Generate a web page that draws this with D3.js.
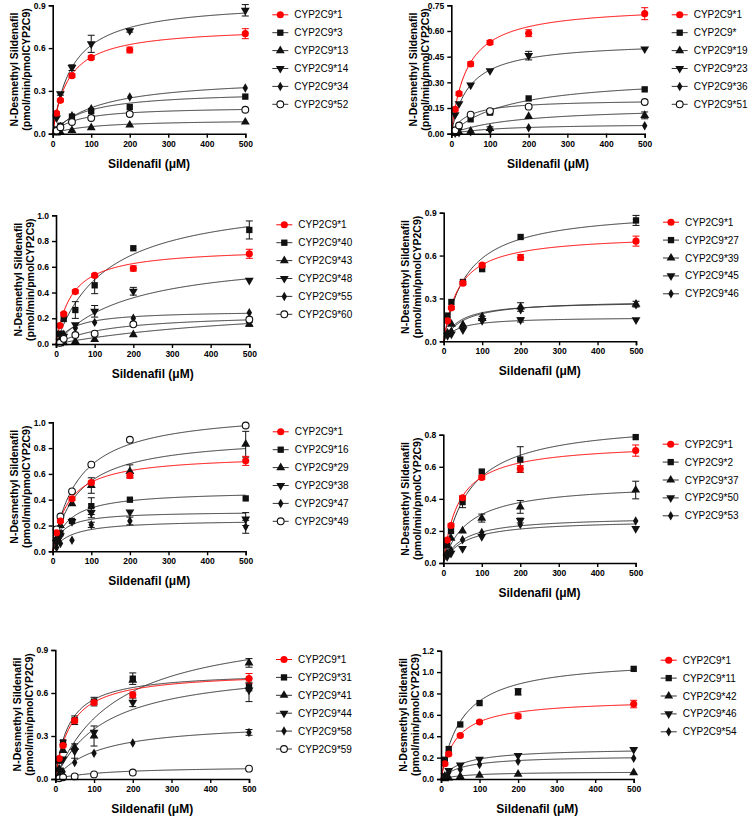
<!DOCTYPE html>
<html><head><meta charset="utf-8">
<script src="https://cdn.jsdelivr.net/npm/d3@7"></script>
<style>body{margin:0;background:#fff} text{font-family:"Liberation Sans",Arial,sans-serif}</style>
</head><body><svg id="c" width="753" height="818"></svg>
<script>
// ---- data ----
const doses = [10, 20, 50, 100, 200, 500];
const xTicks = [0, 100, 200, 300, 400, 500];
const shapeOrder = ["circle", "square", "triangle", "down", "diamond", "open"];

const wtName = "CYP2C9*1";
const wtValues = [0.143, 0.234, 0.407, 0.533, 0.587, 0.701];
const wtErr = [0.01, 0.01, 0.012, 0.012, 0.02, 0.035];
const wtVmax = 0.75, wtKm = 40;

const p1Names = ["CYP2C9*3", "CYP2C9*13", "CYP2C9*14", "CYP2C9*34", "CYP2C9*52"];
const p1Values = [[0.03,0.056,0.12,0.159,0.187,0.26],[0.005,0.01,0.023,0.042,0.061,0.082],[0.11,0.28,0.463,0.63,0.722,0.865],[0.02,0.05,0.126,0.175,0.257,0.32],[0.02,0.045,0.082,0.11,0.138,0.168]];
const p1Err = [[0,0,0,0,0,0],[0,0,0,0,0,0],[0,0.01,0.02,0.06,0.01,0.04],[0,0,0,0,0,0],[0,0,0,0,0,0]];
const p1Vmax = [0.3, 0.1, 0.93, 0.4, 0.19];
const p1Km = [80, 100, 50, 120, 60];
const p1Ticks = [0, 0.3, 0.6, 0.9];

const p2Names = ["CYP2C9*", "CYP2C9*19", "CYP2C9*23", "CYP2C9*36", "CYP2C9*51"];
const p2Values = [[0.005,0.04,0.084,0.123,0.206,0.259],[0.005,0.008,0.015,0.03,0.101,0.107],[0.111,0.175,0.284,0.368,0.456,0.495],[0.002,0.005,0.012,0.02,0.035,0.047],[0.02,0.048,0.111,0.132,0.158,0.185]];
const p2Err = [[0,0,0,0.008,0,0],[0,0,0,0.01,0,0.02],[0,0,0,0,0.025,0],[0,0,0,0,0,0],[0,0,0,0,0,0]];
const p2Vmax = [0.34, 0.16, 0.54, 0.06, 0.2];
const p2Km = [150, 170, 45, 130, 40];
const p2Ticks = [0, 0.15, 0.30, 0.45, 0.60, 0.75];

const p3Names = ["CYP2C9*40", "CYP2C9*43", "CYP2C9*48", "CYP2C9*55", "CYP2C9*60"];
const p3Values = [[0.08,0.194,0.264,0.456,0.744,0.886],[0.003,0.01,0.02,0.035,0.073,0.153],[0.02,0.06,0.15,0.254,0.41,0.495],[0.03,0.075,0.125,0.168,0.2,0.242],[0.01,0.04,0.07,0.08,0.153,0.19]];
const p3Err = [[0,0,0.065,0.065,0,0.07],[0,0,0,0,0,0.015],[0,0,0,0.045,0.03,0],[0,0,0,0,0,0],[0,0,0,0,0,0]];
const p3Vmax = [1.15, 0.35, 0.7, 0.26, 0.24];
const p3Km = [130, 600, 190, 45, 140];
const p3Ticks = [0, 0.2, 0.4, 0.6, 0.8, 1.0];

const p4Names = ["CYP2C9*27", "CYP2C9*39", "CYP2C9*45", "CYP2C9*46"];
const p4Values = [[0.18,0.275,0.415,0.505,0.73,0.846],[0.05,0.12,0.115,0.16,0.24,0.26],[0.04,0.05,0.08,0.145,0.15,0.15],[0.06,0.07,0.11,0.175,0.22,0.255]];
const p4Err = [[0,0,0,0,0,0.035],[0,0,0,0.015,0.03,0.02],[0,0,0,0,0.015,0],[0,0,0,0,0,0]];
const p4Vmax = [0.93, 0.28, 0.17, 0.29];
const p4Km = [60, 40, 35, 50];
const p4Ticks = [0, 0.3, 0.6, 0.9];

const p5Names = ["CYP2C9*16", "CYP2C9*29", "CYP2C9*38", "CYP2C9*47", "CYP2C9*49"];
const p5Values = [[0.085,0.14,0.235,0.35,0.4,0.41],[0.1,0.2,0.37,0.51,0.62,0.83],[0.07,0.12,0.23,0.3,0.305,0.25],[0.03,0.06,0.085,0.205,0.235,0.19],[0.17,0.27,0.465,0.672,0.865,0.975]];
const p5Err = [[0,0,0,0.065,0,0],[0,0,0,0.06,0.05,0.1],[0,0,0,0.04,0,0.05],[0,0,0,0.02,0.03,0.05],[0,0,0,0,0,0]];
const p5Vmax = [0.47, 0.9, 0.31, 0.245, 1.1];
const p5Km = [40, 65, 25, 45, 65];
const p5Ticks = [0, 0.2, 0.4, 0.6, 0.8, 1.0];

const p6Names = ["CYP2C9*2", "CYP2C9*37", "CYP2C9*50", "CYP2C9*53"];
const p6Values = [[0.11,0.2,0.38,0.57,0.645,0.785],[0.06,0.155,0.2,0.28,0.35,0.455],[0.04,0.06,0.09,0.165,0.265,0.215],[0.05,0.08,0.145,0.19,0.24,0.262]];
const p6Err = [[0,0,0.035,0,0.08,0],[0,0,0,0.025,0.04,0.055],[0,0,0,0,0.015,0],[0,0,0,0,0,0]];
const p6Vmax = [0.89, 0.5, 0.27, 0.29];
const p6Km = [65, 65, 55, 50];
const p6Ticks = [0, 0.2, 0.4, 0.6, 0.8];

const p7Names = ["CYP2C9*31", "CYP2C9*41", "CYP2C9*44", "CYP2C9*58", "CYP2C9*59"];
const p7Values = [[0.13,0.255,0.41,0.54,0.7,0.645],[0.07,0.2,0.22,0.3,0.69,0.81],[0.06,0.14,0.195,0.325,0.535,0.62],[0.03,0.05,0.115,0.18,0.252,0.325],[0.005,0.012,0.018,0.032,0.045,0.072]];
const p7Err = [[0.02,0.015,0.03,0.03,0.04,0.03],[0,0,0,0.07,0,0.03],[0,0,0.05,0,0.03,0.08],[0,0,0,0,0,0.02],[0,0,0,0,0,0]];
const p7Vmax = [0.75, 1.1, 0.8, 0.4, 0.09];
const p7Km = [35, 160, 130, 110, 130];
const p7Ticks = [0, 0.3, 0.6, 0.9];

const p8Names = ["CYP2C9*11", "CYP2C9*42", "CYP2C9*46", "CYP2C9*54"];
const p8Values = [[0.18,0.28,0.51,0.71,0.815,1.03],[0.003,0.01,0.025,0.035,0.045,0.06],[0.03,0.08,0.13,0.185,0.22,0.275],[0.03,0.06,0.09,0.135,0.165,0.195]];
const p8Err = [[0,0,0,0,0.03,0],[0,0,0,0,0,0],[0,0,0,0,0,0],[0,0,0,0,0,0]];
const p8Vmax = [1.13, 0.07, 0.29, 0.22];
const p8Km = [55, 70, 55, 55];
const p8Ticks = [0, 0.2, 0.4, 0.6, 0.8, 1.0, 1.2];

// ---- layout ----
const panels = [
  {names:p1Names, values:p1Values, err:p1Err, vmax:p1Vmax, km:p1Km, ticks:p1Ticks, fmt:".1f", box:[52.7,5.3,245.3,133.7]},
  {names:p2Names, values:p2Values, err:p2Err, vmax:p2Vmax, km:p2Km, ticks:p2Ticks, fmt:".2f", box:[451.3,5.3,644.7,133.7]},
  {names:p3Names, values:p3Values, err:p3Err, vmax:p3Vmax, km:p3Km, ticks:p3Ticks, fmt:".1f", box:[56,215.3,249.3,344]},
  {names:p4Names, values:p4Values, err:p4Err, vmax:p4Vmax, km:p4Km, ticks:p4Ticks, fmt:".1f", box:[443.7,212.7,636,341.3]},
  {names:p5Names, values:p5Values, err:p5Err, vmax:p5Vmax, km:p5Km, ticks:p5Ticks, fmt:".1f", box:[52.7,422.3,245.7,551.3]},
  {names:p6Names, values:p6Values, err:p6Err, vmax:p6Vmax, km:p6Km, ticks:p6Ticks, fmt:".1f", box:[443.3,434.7,635.7,563]},
  {names:p7Names, values:p7Values, err:p7Err, vmax:p7Vmax, km:p7Km, ticks:p7Ticks, fmt:".1f", box:[55.3,650,249,779]},
  {names:p8Names, values:p8Values, err:p8Err, vmax:p8Vmax, km:p8Km, ticks:p8Ticks, fmt:".1f", box:[441,650.7,633.7,779]}
];

const svg = d3.select("#c");
const RED = "#ff0000", BLK = "#111";

function symbolFor(shape) {
  const map = {circle:[d3.symbolCircle,40], square:[d3.symbolSquare,40], triangle:[d3.symbolTriangle,34],
               down:[d3.symbolTriangle,34], diamond:[d3.symbolDiamond,26], open:[d3.symbolCircle,36]};
  const m = map[shape];
  return d3.symbol().type(m[0]).size(m[1])();
}
function drawMarker(g, shape, x, y, color) {
  const p = g.append("path").attr("d", symbolFor(shape))
    .attr("transform", `translate(${x},${y})` + (shape === "down" ? " rotate(180)" : ""));
  if (shape === "open") p.attr("fill", "#fff").attr("stroke", color).attr("stroke-width", 1.1);
  else p.attr("fill", color);
}

const curveX = d3.range(0, 500.01, 2);

panels.forEach(P => {
  const [L, T, R, B] = P.box;
  const yMax = P.ticks[P.ticks.length - 1];
  const x = d3.scaleLinear().domain([0, 500]).range([L, R]);
  const y = d3.scaleLinear().domain([0, yMax]).range([B, T]);
  const g = svg.append("g");

  const series = P.names.map((n, i) => ({name:n, values:P.values[i], err:P.err[i], vmax:P.vmax[i], km:P.km[i], shape:shapeOrder[i+1], color:BLK}));
  series.push({name:wtName, values:wtValues, err:wtErr, vmax:wtVmax, km:wtKm, shape:"circle", color:RED});

  const line = d3.line().x(d => x(d[0])).y(d => y(d[1]));
  series.forEach(s => {
    g.append("path").attr("d", line(curveX.map(c => [c, s.vmax * c / (s.km + c)])))
      .attr("fill", "none").attr("stroke", s.color === RED ? RED : "#333").attr("stroke-width", 1);
    doses.forEach((d, j) => {
      const e = s.err[j];
      if (e > 0) {
        const cx = x(d), y1 = y(s.values[j] + e), y2 = y(Math.max(0, s.values[j] - e));
        g.append("line").attr("x1", cx).attr("x2", cx).attr("y1", y1).attr("y2", y2).attr("stroke", s.color).attr("stroke-width", 1);
        [y1, y2].forEach(yy => g.append("line").attr("x1", cx - 3.5).attr("x2", cx + 3.5).attr("y1", yy).attr("y2", yy).attr("stroke", s.color).attr("stroke-width", 1));
      }
    });
  });
  series.forEach(s => {
    doses.forEach((d, j) => drawMarker(g, s.shape, x(d), y(s.values[j]), s.color));
  });

  // axes
  const xa = g.append("g").attr("transform", `translate(0,${B})`)
    .call(d3.axisBottom(x).tickValues(xTicks).tickSize(4).tickPadding(3).tickFormat(d3.format("d")));
  const ya = g.append("g").attr("transform", `translate(${L},0)`)
    .call(d3.axisLeft(y).tickValues(P.ticks).tickSize(4).tickPadding(3).tickFormat(d3.format(P.fmt)));
  [xa, ya].forEach(a => {
    a.select(".domain").attr("stroke", "#000").attr("stroke-width", 1.6);
    a.selectAll(".tick line").attr("stroke", "#000").attr("stroke-width", 1.4);
    a.selectAll(".tick text").attr("font-size", 8.5).attr("font-weight", "bold").attr("fill", "#000")
      .style("font-family", '"Liberation Sans", Arial, sans-serif');
  });

  // titles
  g.append("text").attr("x", (L + R) / 2).attr("y", B + 30).attr("text-anchor", "middle")
    .attr("dominant-baseline", "central").attr("font-size", 12).attr("font-weight", "bold").text("Sildenafil (μM)");
  const cy = (T + B) / 2;
  g.append("text").attr("transform", `translate(${L - 38.5},${cy}) rotate(-90)`).attr("text-anchor", "middle")
    .attr("dominant-baseline", "central").attr("font-size", 10.5).attr("font-weight", "bold").text("N-Desmethyl Sildenafil");
  g.append("text").attr("transform", `translate(${L - 26.5},${cy}) rotate(-90)`).attr("text-anchor", "middle")
    .attr("dominant-baseline", "central").attr("font-size", 10.5).attr("font-weight", "bold").text("(pmol/min/pmolCYP2C9)");

  // legend
  const legendOrder = [series[series.length - 1]].concat(series.slice(0, -1));
  const lx = R + 35;
  legendOrder.forEach((s, i) => {
    const ly = T + 9.5 + i * 17.9;
    g.append("line").attr("x1", lx - 8).attr("x2", lx + 8).attr("y1", ly).attr("y2", ly)
      .attr("stroke", s.color === RED ? RED : "#333").attr("stroke-width", 1);
    drawMarker(g, s.shape, lx, ly, s.color);
    g.append("text").attr("x", lx + 14).attr("y", ly).attr("dominant-baseline", "central")
      .attr("font-size", 10).attr("fill", "#000").text(s.name);
  });
});
</script></body></html>
